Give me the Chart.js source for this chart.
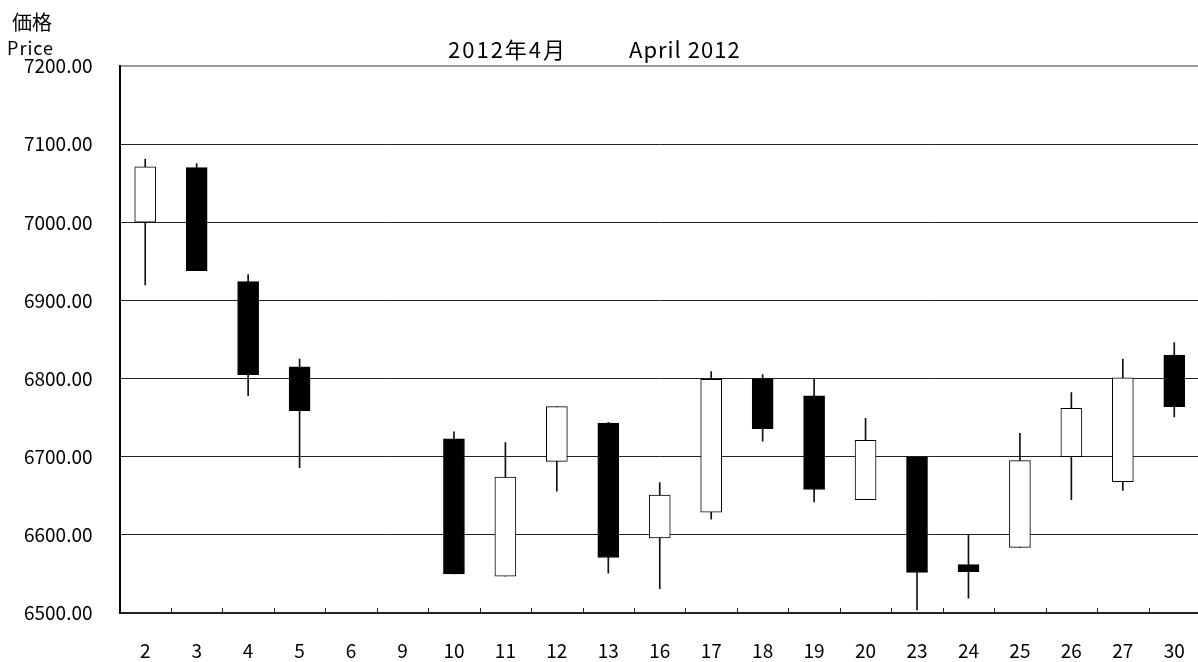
<!DOCTYPE html>
<html>
<head>
<meta charset="utf-8">
<script src="https://cdn.jsdelivr.net/npm/chart.js@4"></script>
<style>
  html, body { margin: 0; padding: 0; background: #fff; overflow: hidden; }
  #wrap { width: 1200px; height: 662px; position: relative; }
</style>
</head>
<body>
<div id="wrap"><canvas id="candleChart"></canvas></div>
<script>
// trading days, April 2012
const days = ['2', '3', '4', '5', '6', '9', '10', '11', '12', '13', '16', '17', '18', '19', '20', '23', '24', '25', '26', '27', '30'];
const openPrices  = [7000, 7070, 6924, 6815, null, null, 6723, 6547, 6694, 6743, 6596, 6629, 6800, 6778, 6645, 6700, 6562, 6584, 6700, 6668, 6830];
const closePrices = [7071, 6938, 6805, 6759, null, null, 6550, 6674, 6764, 6571, 6651, 6799, 6736, 6658, 6721, 6552, 6553, 6695, 6762, 6801, 6764];
const highPrices  = [7081, 7075, 6933, 6825, null, null, 6732, 6718, 6764, 6744, 6667, 6809, 6805, 6800, 6749, 6700, 6600, 6730, 6782, 6825, 6846];
const lowPrices   = [6920, 6938, 6778, 6686, null, null, 6550, 6547, 6656, 6551, 6531, 6620, 6720, 6642, 6645, 6504, 6519, 6584, 6645, 6657, 6751];
const yTicks = [6500, 6600, 6700, 6800, 6900, 7000, 7100, 7200];

const FONT = '"Noto Sans CJK JP", "Noto Sans", sans-serif';

document.addEventListener('DOMContentLoaded', () => {
    const ctx = document.getElementById('candleChart').getContext('2d');

    const bodies = days.map((d, i) => openPrices[i] == null ? null : [openPrices[i], closePrices[i]]);
    const wicks = days.map((d, i) => lowPrices[i] == null ? null : [lowPrices[i], highPrices[i]]);
    const bodyFill = days.map((d, i) => closePrices[i] >= openPrices[i] ? '#ffffff' : '#000000');

    // text labels and the small inward tick marks on the x axis
    const decorations = {
        id: 'decorations',
        afterDraw(chart) {
            const c = chart.ctx;
            const xs = chart.scales.x;
            const area = chart.chartArea;
            c.save();
            c.strokeStyle = '#222';
            c.lineWidth = 1;
            c.beginPath();
            for (let i = 1; i < days.length; i++) {
                const x = Math.round((xs.getPixelForValue(i - 1) + xs.getPixelForValue(i)) / 2) + 0.5;
                c.moveTo(x, area.bottom);
                c.lineTo(x, area.bottom - 5);
            }
            c.stroke();

            c.fillStyle = '#000';
            c.textBaseline = 'middle';
            c.textAlign = 'left';
            c.font = '20px ' + FONT;
            c.fillText('価格', 12, 22);
            c.font = '18px ' + FONT;
            c.letterSpacing = '1px';
            c.fillText('Price', 7, 48);
            c.font = '22px ' + FONT;
            c.letterSpacing = '2px';
            c.fillText('2012年4月', 448, 50);
            c.letterSpacing = '1px';
            c.fillText('April 2012', 629, 50);
            c.restore();
        }
    };

    new Chart(ctx, {
        type: 'bar',
        data: {
            labels: days,
            datasets: [
                {
                    label: 'body',
                    data: bodies,
                    backgroundColor: bodyFill,
                    borderColor: '#000',
                    borderWidth: 1,
                    borderSkipped: false,
                    barThickness: 21,
                    grouped: false,
                    order: 1
                },
                {
                    label: 'wick',
                    data: wicks,
                    backgroundColor: '#111',
                    borderWidth: 0,
                    barThickness: 1,
                    grouped: false,
                    order: 2
                }
            ]
        },
        options: {
            responsive: true,
            maintainAspectRatio: false,
            animation: false,
            layout: { padding: { top: 66, right: 0, left: 0, bottom: 0 } },
            plugins: {
                legend: { display: false },
                tooltip: { enabled: false },
                title: { display: false }
            },
            scales: {
                x: {
                    grid: {
                        display: true,
                        drawOnChartArea: false,
                        drawTicks: true,
                        tickLength: 26,
                        color: 'rgba(0,0,0,0)'
                    },
                    border: { display: true, color: '#222', width: 2 },
                    ticks: { color: '#000', font: { family: FONT, size: 19 }, padding: 0 },
                    afterFit: s => { s.height = 49; }
                },
                y: {
                    min: 6500,
                    max: 7200,
                    afterBuildTicks: s => { s.ticks = yTicks.map(v => ({ value: v })); },
                    grid: {
                        drawTicks: false,
                        color: c => c.tick && c.tick.value === 7200 ? '#999999' : '#222',
                        lineWidth: c => c.tick && c.tick.value === 7200 ? 2 : 1
                    },
                    border: { display: true, color: '#000', width: 2 },
                    ticks: {
                        color: '#000',
                        font: { family: FONT, size: 19 },
                        padding: 27,
                        callback: v => Number(v).toFixed(2)
                    },
                    afterFit: s => { s.width = 119.5; }
                }
            }
        },
        plugins: [decorations]
    });
});
</script>
</body>
</html>
